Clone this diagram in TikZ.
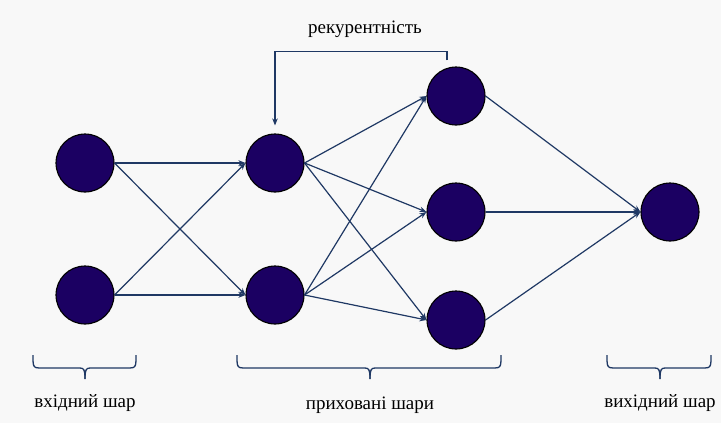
\documentclass[tikz,border=0pt]{standalone}
\usepackage{fontspec}
\setmainfont{Liberation Serif}
\newfontfamily\capfont{Liberation Serif}
\usetikzlibrary{arrows.meta}
\definecolor{bgcol}{HTML}{F8F8F8}
\definecolor{neuron}{HTML}{1B0062}
\definecolor{wire}{HTML}{1F3864}
\newcommand{\layerbrace}[3]{%
  % #1 left x, #2 right x, #3 tip x
  \draw[bracestyle] (#1,355) .. controls (#1,366) and (#1,368) .. (#1+6,368)
    -- (#3-5,368) .. controls (#3-1,368) and (#3,370) .. (#3,379);
  \draw[bracestyle] (#2,355) .. controls (#2,366) and (#2,368) .. (#2-6,368)
    -- (#3+5,368) .. controls (#3+1,368) and (#3,370) .. (#3,379);
}
\begin{document}
\begin{tikzpicture}[x=1pt,y=-1pt,
  neuronstyle/.style={circle,draw=black,line width=1.1pt,fill=neuron,minimum size=58pt,inner sep=0pt},
  link/.style={draw=wire,line width=1.2pt,-{Stealth[length=7pt,width=5.5pt]}},
  bracestyle/.style={draw=wire,line width=1.3pt},
  caption/.style={font=\capfont\fontsize{19}{21}\selectfont,text=black,inner sep=0pt}]
\useasboundingbox[fill=bgcol] (0,0) rectangle (721,423);

% input layer
\node[neuronstyle] (i1) at (85,163) {};
\node[neuronstyle] (i2) at (85,295) {};
% first hidden layer
\node[neuronstyle] (a1) at (275,163) {};
\node[neuronstyle] (a2) at (275,295) {};
% second hidden layer
\node[neuronstyle] (b1) at (456,96) {};
\node[neuronstyle] (b2) at (456,212) {};
\node[neuronstyle] (b3) at (456,320) {};
% output layer
\node[neuronstyle] (o) at (670,212) {};

% connections
\foreach \s in {i1,i2}
  \foreach \t in {a1,a2}
    \draw[link] (\s.east) -- (\t.west);
\foreach \s in {a1,a2}
  \foreach \t in {b1,b2,b3}
    \draw[link] (\s.east) -- (\t.west);
\foreach \s in {b1,b2,b3}
  \draw[link] (\s.east) -- (o.west);

% recurrent loop
\draw[link] ([shift={(-9,-6)}]b1.north) -- ++(0,-9) -| ([shift={(0,-8)}]a1.north);
\node[caption] (rec) at (365,29) {рекурентність};

% layer braces and captions
\layerbrace{33}{136}{85}
\layerbrace{237}{501}{370}
\layerbrace{607}{711}{660}
\node[caption] (lin) at (85,403) {вхідний шар};
\node[caption] (lhid) at (370,405) {приховані шари};
\node[caption] (lout) at (660,403) {вихідний шар};
\end{tikzpicture}
\end{document}
